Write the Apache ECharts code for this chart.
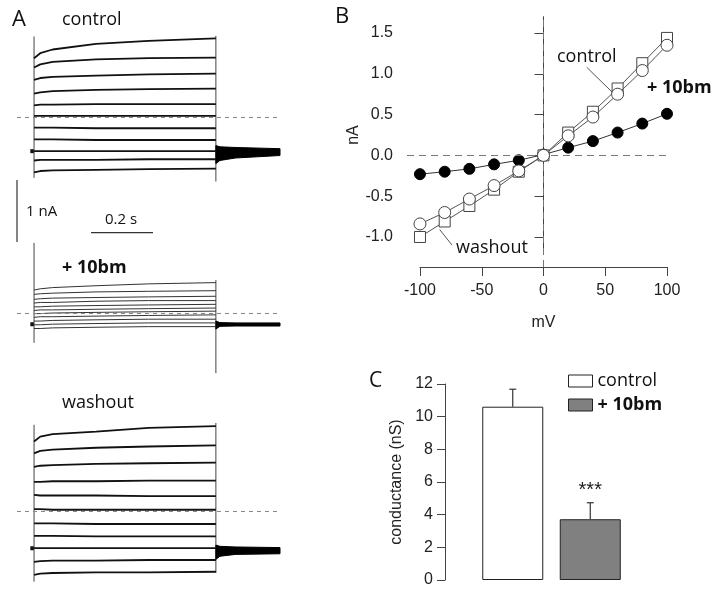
<!DOCTYPE html>
<html><head><meta charset="utf-8">
<script src="https://cdn.jsdelivr.net/npm/echarts@6/dist/echarts.min.js"></script>
<style>html,body{margin:0;padding:0;background:#fff}#c{width:713px;height:597px}</style>
</head><body><div id="c"></div>
<script>
// ================= Panel A: whole-cell current traces (nA; 0 = dashed line) =================
const traceTimes = [0, 0.02, 0.06, 0.2, 0.37, 0.587];           // s, within the voltage step
const controlTraces = [
  [0.96, 1.04, 1.10, 1.19, 1.24, 1.28],
  [0.81, 0.86, 0.90, 0.94, 0.96, 0.97],
  [0.61, 0.64, 0.66, 0.68, 0.70, 0.71],
  [0.39, 0.41, 0.43, 0.45, 0.46, 0.47],
  [0.20, 0.21, 0.21, 0.22, 0.22, 0.22],
  [0.03, 0.03, 0.03, 0.03, 0.03, 0.03],
  [-0.16, -0.16, -0.16, -0.17, -0.17, -0.17],
  [-0.35, -0.35, -0.35, -0.36, -0.36, -0.36],
  [-0.54, -0.54, -0.54, -0.54, -0.54, -0.54],
  [-0.69, -0.68, -0.68, -0.68, -0.67, -0.67],
  [-0.88, -0.86, -0.85, -0.84, -0.83, -0.82]
];
const bmTraces = [
  [0.37, 0.39, 0.41, 0.44, 0.47, 0.49],
  [0.30, 0.31, 0.32, 0.34, 0.35, 0.36],
  [0.22, 0.23, 0.24, 0.25, 0.26, 0.27],
  [0.16, 0.17, 0.17, 0.19, 0.20, 0.20],
  [0.10, 0.10, 0.11, 0.12, 0.13, 0.14],
  [0.04, 0.05, 0.05, 0.06, 0.07, 0.08],
  [-0.01, -0.01, 0.00, 0.01, 0.02, 0.03],
  [-0.07, -0.06, -0.06, -0.05, -0.04, -0.03],
  [-0.13, -0.13, -0.12, -0.11, -0.10, -0.10],
  [-0.19, -0.19, -0.18, -0.17, -0.16, -0.16],
  [-0.25, -0.25, -0.24, -0.23, -0.22, -0.22]
];
const washoutTraces = [
  [1.12, 1.20, 1.24, 1.28, 1.34, 1.37],
  [0.93, 0.97, 0.99, 1.02, 1.04, 1.06],
  [0.71, 0.73, 0.74, 0.76, 0.77, 0.78],
  [0.47, 0.47, 0.48, 0.48, 0.49, 0.49],
  [0.26, 0.25, 0.25, 0.25, 0.24, 0.24],
  [0.03, 0.03, 0.02, 0.02, 0.02, 0.02],
  [-0.20, -0.20, -0.20, -0.21, -0.21, -0.21],
  [-0.40, -0.40, -0.40, -0.41, -0.41, -0.41],
  [-0.60, -0.60, -0.60, -0.60, -0.60, -0.60],
  [-0.82, -0.81, -0.80, -0.80, -0.79, -0.79],
  [-1.03, -1.01, -1.00, -0.99, -0.99, -0.98]
];
const holdingTimes = [-0.012, 0];
const holdingLevels = [-0.54, -0.18, -0.60];          // control, +10bm, washout
const transientTimes = [0, 0.587];                      // step on / step off
const controlTransients = [[1.31, -0.97], [1.32, -1.03]];
const bmTransients = [[1.13, -0.48], [0.53, -0.97]];
const washoutTransients = [[1.39, -1.14], [1.42, -1.00]];
const tailTimes = [0.587, 0.60, 0.65, 0.794];
const controlTailUpper = [-0.45, -0.47, -0.48, -0.50];
const controlTailLower = [-0.74, -0.69, -0.65, -0.61];
const bmTailUpper = [-0.13, -0.155, -0.16, -0.16];
const bmTailLower = [-0.26, -0.215, -0.21, -0.21];
const washoutTailUpper = [-0.55, -0.57, -0.58, -0.59];
const washoutTailLower = [-0.78, -0.73, -0.70, -0.69];
const scaleBarCurrent = 1;    // nA
const scaleBarTime = 0.2;     // s

// ================= Panel B: I-V relation =================
const voltages = [-100, -80, -60, -40, -20, 0, 20, 40, 60, 80, 100];
const ivControl = [-0.84, -0.70, -0.535, -0.37, -0.19, 0.0, 0.24, 0.47, 0.75, 1.04, 1.35];
const ivWashout = [-1.00, -0.81, -0.62, -0.42, -0.20, 0.0, 0.28, 0.535, 0.82, 1.13, 1.44];
const ivBm = [-0.23, -0.20, -0.165, -0.11, -0.06, 0.01, 0.095, 0.175, 0.28, 0.39, 0.51];
const ivTicks = [-1.0, -0.5, 0.0, 0.5, 1.0, 1.5];
const controlLeader = [[35, 1.08], [56, 0.77]];
const washoutLeader = [[-84, -0.91], [-74, -1.10]];

// ================= Panel C: conductance =================
const condCategories = ['control', '+ 10bm'];
const condMeans = [10.61, 3.72];
const condSEM = [1.07, 1.01];
const condSig = ['', '***'];

const SANS = 'Liberation Sans';
const CAL = 'Open Sans';

const series = [];
const xMinA = -0.055, xMaxA = 0.794;

function tailRender(params, api) {
  const i = params.dataIndexInside;
  if (i >= params.dataInsideLength - 1) return { type: 'group', children: [] };
  const a1 = api.coord([api.value(0, i), api.value(1, i)]);
  const b1 = api.coord([api.value(0, i + 1), api.value(1, i + 1)]);
  const b2 = api.coord([api.value(0, i + 1), api.value(2, i + 1)]);
  const a2 = api.coord([api.value(0, i), api.value(2, i)]);
  return {
    type: 'polygon', shape: { points: [a1, b1, b2, a2] },
    style: { fill: '#000', stroke: '#000', lineWidth: 1 }
  };
}

function addTracePanel(g, traces, transients, hold, tailU, tailL, lw, col) {
  series.push({
    type: 'line', xAxisIndex: g, yAxisIndex: g, z: 1, symbol: 'none',
    data: holdingTimes.map(t => [t, hold]),
    lineStyle: { width: 4, color: '#111' },
    markLine: {
      silent: true, symbol: 'none', label: { show: false },
      lineStyle: { type: [4, 4], color: '#888', width: 1 },
      data: [{ yAxis: 0 }]
    }
  });
  traces.forEach(tr => series.push({
    type: 'line', xAxisIndex: g, yAxisIndex: g, z: 3, symbol: 'none',
    data: traceTimes.map((t, i) => [t, tr[i]]),
    lineStyle: { width: lw, color: col }
  }));
  transients.forEach((tv, k) => series.push({
    type: 'line', xAxisIndex: g, yAxisIndex: g, z: 2, symbol: 'none',
    data: [[transientTimes[k], tv[0]], [transientTimes[k], tv[1]]],
    lineStyle: { width: 1, color: '#444' }
  }));
  series.push({
    type: 'custom', xAxisIndex: g, yAxisIndex: g, z: 3,
    data: tailTimes.map((t, i) => [t, tailU[i], tailL[i]]),
    renderItem: tailRender
  });
}
addTracePanel(0, controlTraces, controlTransients, holdingLevels[0], controlTailUpper, controlTailLower, 1.8, '#111');
addTracePanel(1, bmTraces, bmTransients, holdingLevels[1], bmTailUpper, bmTailLower, 1, '#333');
addTracePanel(2, washoutTraces, washoutTransients, holdingLevels[2], washoutTailUpper, washoutTailLower, 1.8, '#111');

// scale bars
series.push({
  type: 'line', xAxisIndex: 3, yAxisIndex: 3, symbol: 'none',
  data: [[xMinA, 0], [xMinA, scaleBarCurrent]], lineStyle: { width: 1.2, color: '#333' }
});
series.push({
  type: 'line', xAxisIndex: 3, yAxisIndex: 3, symbol: 'none',
  data: [[0.184, 0.15], [0.184 + scaleBarTime, 0.15]], lineStyle: { width: 1.2, color: '#333' }
});

// Panel B
series.push({
  type: 'line', xAxisIndex: 5, yAxisIndex: 5, z: 1, symbol: 'none',
  data: [[0, 0.5]], lineStyle: { opacity: 0 },
  markLine: {
    silent: true, symbol: 'none', label: { show: false },
    lineStyle: { type: [7, 5], color: '#777', width: 1 },
    data: [{ xAxis: 0 }]
  }
});
series.push({
  name: '+ 10bm IV', type: 'line', xAxisIndex: 4, yAxisIndex: 4, z: 3,
  data: voltages.map((v, i) => [v, ivBm[i]]),
  symbol: 'circle', symbolSize: 11,
  itemStyle: { color: '#000', borderColor: '#000' },
  lineStyle: { color: '#333', width: 1 },
  markLine: {
    silent: true, symbol: 'none', label: { show: false },
    lineStyle: { type: [7, 5], color: '#777', width: 1 },
    data: [{ yAxis: 0 }]
  }
});
series.push({
  name: 'washout IV', type: 'line', xAxisIndex: 4, yAxisIndex: 4, z: 4,
  data: voltages.map((v, i) => [v, ivWashout[i]]),
  symbol: 'rect', symbolSize: 11,
  itemStyle: { color: '#fff', borderColor: '#444', borderWidth: 1 },
  lineStyle: { color: '#555', width: 1 },
  markLine: {
    silent: true, symbol: 'none', label: { show: false },
    lineStyle: { type: 'solid', color: '#555', width: 1 },
    data: [[{ coord: washoutLeader[0] }, { coord: washoutLeader[1] }]]
  }
});
series.push({
  name: 'control IV', type: 'line', xAxisIndex: 4, yAxisIndex: 4, z: 5,
  data: voltages.map((v, i) => [v, ivControl[i]]),
  symbol: 'circle', symbolSize: 12,
  itemStyle: { color: '#fff', borderColor: '#444', borderWidth: 1 },
  lineStyle: { color: '#555', width: 1 },
  markLine: {
    silent: true, symbol: 'none', label: { show: false },
    lineStyle: { type: 'solid', color: '#555', width: 1 },
    data: [[{ coord: controlLeader[0] }, { coord: controlLeader[1] }]]
  }
});

// Panel C
series.push({
  name: condCategories[0], type: 'bar', xAxisIndex: 6, yAxisIndex: 6,
  barWidth: 61, barGap: '-100%',
  data: [condMeans[0], '-'],
  itemStyle: { color: '#ffffff', borderColor: '#222', borderWidth: 1 }
});
series.push({
  name: condCategories[1], type: 'bar', xAxisIndex: 6, yAxisIndex: 6,
  barWidth: 61, barGap: '-100%',
  data: ['-', {
    value: condMeans[1],
    label: {
      show: true, position: 'top', distance: 19, formatter: condSig[1],
      fontFamily: SANS, fontSize: 20, color: '#222'
    }
  }],
  itemStyle: { color: '#808080', borderColor: '#222', borderWidth: 1 }
});
series.push({
  type: 'custom', xAxisIndex: 6, yAxisIndex: 6, z: 1,
  data: condMeans.map((m, i) => [i, m, m + condSEM[i]]),
  renderItem: function (params, api) {
    const p0 = api.coord([api.value(0), api.value(1)]);
    const p1 = api.coord([api.value(0), api.value(2)]);
    const st = { stroke: '#333', lineWidth: 1.2 };
    return {
      type: 'group', children: [
        { type: 'line', shape: { x1: p0[0], y1: p0[1], x2: p1[0], y2: p1[1] }, style: st },
        { type: 'line', shape: { x1: p1[0] - 3.5, y1: p1[1], x2: p1[0] + 3.5, y2: p1[1] }, style: st }
      ]
    };
  }
});

const hiddenVal = (min, max) => ({ type: 'value', min, max, show: false });

const texts = [
  { t: 'A', x: 12, y: 20, s: 22 },
  { t: 'control', x: 62, y: 20, s: 18 },
  { t: '+ 10bm', x: 62, y: 268, s: 18, b: true },
  { t: 'washout', x: 62, y: 403, s: 18 },
  { t: '1 nA', x: 26, y: 212, s: 15 },
  { t: '0.2 s', x: 105, y: 220, s: 15 },
  { t: 'B', x: 335, y: 17, s: 22 },
  { t: 'control', x: 557, y: 57, s: 18 },
  { t: '+ 10bm', x: 647, y: 88, s: 18, b: true },
  { t: 'washout', x: 456, y: 248, s: 18 },
  { t: 'C', x: 369, y: 381, s: 21 }
];

const option = {
  animation: false,
  backgroundColor: '#fff',
  grid: [
    { left: 17, top: 30.9, width: 263, height: 155 },
    { left: 17, top: 226.2, width: 263, height: 155 },
    { left: 17, top: 418, width: 263, height: 167.4 },
    { left: 17, top: 180, width: 263, height: 62 },
    { left: 407, top: 16.7, width: 260, height: 236.6 },
    { left: 420, top: 16.7, width: 247, height: 250.3 },
    { left: 474, top: 384, width: 155, height: 196 }
  ],
  xAxis: [
    Object.assign(hiddenVal(xMinA, xMaxA), { gridIndex: 0 }),
    Object.assign(hiddenVal(xMinA, xMaxA), { gridIndex: 1 }),
    Object.assign(hiddenVal(xMinA, xMaxA), { gridIndex: 2 }),
    Object.assign(hiddenVal(xMinA, xMaxA), { gridIndex: 3 }),
    Object.assign(hiddenVal(-110.5, 100), { gridIndex: 4 }),
    {
      gridIndex: 5, type: 'value', min: -100, max: 100, interval: 50,
      name: 'mV', nameLocation: 'middle', nameGap: 48,
      nameTextStyle: { fontFamily: SANS, fontSize: 16, color: '#222' },
      axisLine: { show: true, lineStyle: { color: '#444', width: 1 } },
      axisTick: { show: true, length: 9, inside: false, lineStyle: { color: '#444' } },
      axisLabel: { fontFamily: SANS, fontSize: 16, color: '#222', margin: 16 },
      splitLine: { show: false }
    },
    { gridIndex: 6, type: 'category', data: condCategories, show: false }
  ],
  yAxis: [
    Object.assign(hiddenVal(-1.1, 1.4), { gridIndex: 0 }),
    Object.assign(hiddenVal(-1.1, 1.4), { gridIndex: 1 }),
    Object.assign(hiddenVal(-1.2, 1.5), { gridIndex: 2 }),
    Object.assign(hiddenVal(0, 1), { gridIndex: 3 }),
    {
      gridIndex: 4, type: 'value', min: -1.2, max: 1.7,
      name: 'nA', nameLocation: 'middle', nameGap: 45,
      nameTextStyle: { fontFamily: SANS, fontSize: 16, color: '#222' },
      axisLine: { show: true, lineStyle: { color: '#444', width: 1 } },
      axisTick: { show: true, length: 9, customValues: ivTicks, lineStyle: { color: '#444' } },
      axisLabel: {
        fontFamily: SANS, fontSize: 16, color: '#222', margin: 14,
        customValues: ivTicks, formatter: v => Number(v).toFixed(1)
      },
      splitLine: { show: false }
    },
    Object.assign(hiddenVal(0, 1), { gridIndex: 5 }),
    {
      gridIndex: 6, type: 'value', min: 0, max: 12, interval: 2, offset: 29,
      name: 'conductance (nS)', nameLocation: 'middle', nameGap: 40,
      nameTextStyle: { fontFamily: SANS, fontSize: 16, color: '#222' },
      axisLine: { show: true, lineStyle: { color: '#444', width: 1 } },
      axisTick: { show: true, length: 8, lineStyle: { color: '#444' } },
      axisLabel: { fontFamily: SANS, fontSize: 16, color: '#222', margin: 12 },
      splitLine: { show: false }
    }
  ],
  legend: {
    data: condCategories, orient: 'vertical', left: 563, top: 367,
    itemWidth: 24, itemHeight: 12, itemGap: 6, icon: 'rect', selectedMode: false,
    itemStyle: { borderColor: '#222', borderWidth: 1 },
    formatter: n => n === '+ 10bm' ? '{b|' + n + '}' : '{r|' + n + '}',
    textStyle: {
      rich: {
        r: { fontFamily: CAL, fontSize: 18, color: '#111' },
        b: { fontFamily: CAL, fontSize: 18, fontWeight: 'bold', color: '#111' }
      }
    }
  },
  graphic: texts.map(o => ({
    type: 'text', x: o.x, y: o.y, silent: true,
    style: {
      text: o.t, fontFamily: CAL, fontSize: o.s, fontWeight: o.b ? 'bold' : 'normal',
      fill: '#111', verticalAlign: 'middle'
    }
  })),
  series: series
};

const chart = echarts.init(document.getElementById('c'), null, { renderer: 'canvas' });
chart.setOption(option);
</script>
</body></html>
